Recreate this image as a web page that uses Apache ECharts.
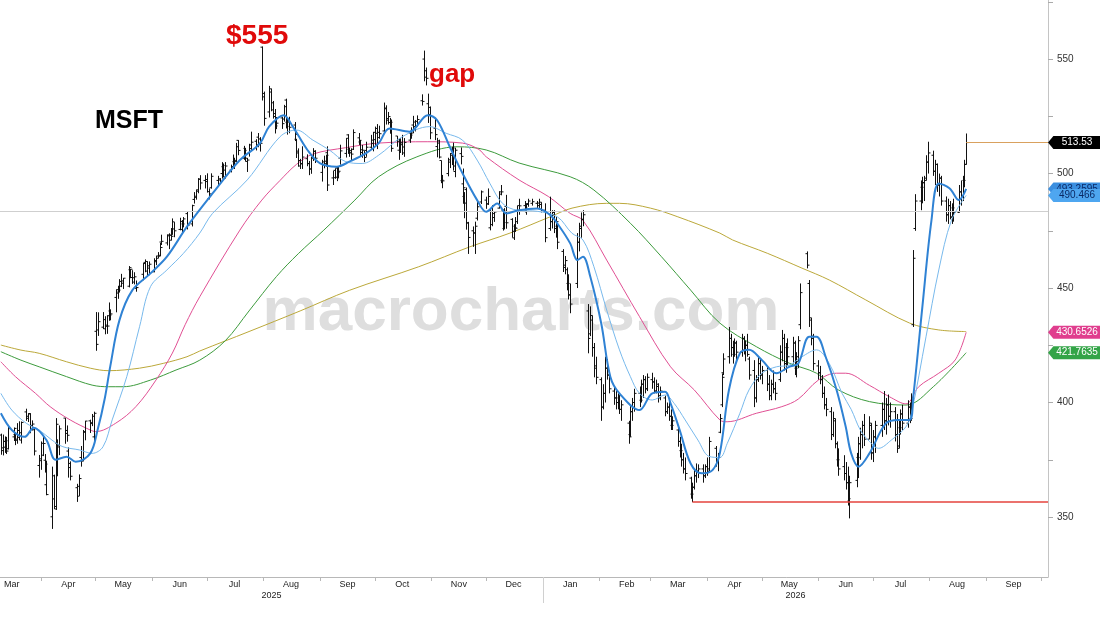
<!DOCTYPE html>
<html><head><meta charset="utf-8">
<script src="https://cdn.jsdelivr.net/npm/echarts@6/dist/echarts.min.js"></script>
<style>html,body{margin:0;padding:0;background:#fff}#c{width:1100px;height:619px}</style>
</head><body><div id="c"></div>
<script>
// ---- Daily OHLC, rows: [day, open, high, low, close] ----
const m2025_03 = [[10,385.8,386.4,377.2,380.2],[11,379,386,376.9,380.5],[12,383,385.2,378,383.3],[13,383.1,385,377.5,378.8],[14,379.8,390,379.5,388.6],[17,385,389.1,383.2,388.7],[18,386,387,381.4,383.5],[19,384,391,382,387.8],[20,384.8,391.8,383.6,386.8],[21,383.6,391.7,382.1,391.3],[24,395.9,397.3,392,393.1],[25,394,395.3,391.5,395.2],[26,395,395.3,386.6,390],[27,390,392.2,387.8,390.6],[28,388.1,389.1,376.9,378.8],[31,372.5,377.1,367.2,375.4]];
const m2025_04 = [[1,374.6,383,370.6,382.2],[2,377,385.1,376.6,382.1],[3,374.8,377.5,369.4,373.1],[4,364.1,374.6,359.5,359.8],[7,350.1,372,344.8,357.9],[8,368,368.5,353.5,354.6],[9,353.5,393.2,353.1,390.5],[10,382.1,383.9,367.8,381.4],[11,380.6,390,377,388.5],[14,393.2,393.2,382,387.8],[15,386.5,390,382.9,385.7],[16,378.8,380.4,367.2,371.6],[17,373.4,374.3,366,367.8],[21,362.8,364.5,356.6,359.1],[22,363.4,368.6,359.2,366.8],[23,376,381,372,374.4],[24,375,388,374.4,387.3],[25,387,392,383.5,391.9],[28,392,392.5,386.7,391.2],[29,390.8,395,389.7,394],[30,385,396,382.8,395.3]];
const m2025_05 = [[1,431.1,439.5,422.6,425.4],[2,431.7,439.4,429.1,435.3],[5,432.9,439.5,432.1,436.2],[6,432.2,437.7,429.8,433.3],[7,433.8,438.1,430,433.4],[8,437.9,443.7,435.7,438.2],[9,440,440.7,435.9,438.7],[12,445.9,449.4,439.4,449.3],[13,447.8,451,445.3,449.1],[14,448.3,453.9,448.1,452.9],[15,450.8,456.2,450.4,453.1],[16,452.1,454.4,449.6,454.3],[19,450.8,459.6,450.3,458.9],[20,458,458.3,454.3,458.2],[21,454.6,457.8,451.8,452.6],[22,454.5,456.9,451.6,454.9],[23,449.9,453.3,448.4,450.2],[27,456,460.9,453.4,460.7],[28,461.2,462.5,456.9,457.4],[29,461.6,461.7,455.3,458.7],[30,459.7,461.6,455.6,460.4]];
const m2025_06 = [[2,457.1,463,456.9,462],[3,461.5,464.1,460,463],[4,464,465.7,463,463.9],[5,464.3,469.7,464,467.7],[6,470.1,473.3,468.8,470.4],[9,469.7,473.4,468.6,472.8],[10,473.2,473.9,467,470.9],[11,473,476.2,470.8,472.6],[12,473.4,480.4,473.3,478.9],[13,475.8,478.8,472.2,475],[16,475.6,480.7,475.2,479.1],[17,475.6,479.7,474.1,478],[18,478,481,476.5,480.2],[20,482.5,483.5,475.6,477.4],[23,478,486.4,476.9,486],[24,488.7,491.9,486.9,490.1],[25,489.6,493,488.6,492.3],[26,492.9,498,491.4,497.5],[27,497.6,499.3,493,495.9],[30,497,499.3,493.5,497.4]];
const m2025_07 = [[1,496.5,500.1,491.7,492.1],[2,489.1,493.5,488.7,491.1],[3,493.8,500.1,493.4,498.8],[7,497,499,494.2,497.7],[8,497.2,498,495.5,496.6],[9,500,505,497.8,503.5],[10,503,504.4,498.4,501.5],[11,498.5,505,497.8,503.3],[14,501.5,503.9,500.5,503],[15,503,508.3,502.8,505.8],[16,505.2,506.9,502,505.6],[17,505.2,513.4,505.1,511.7],[18,514.5,514.6,508,510.1],[21,506.7,512.1,506,510.1],[22,511,511.2,505.3,505.3],[23,506.7,506.8,500.7,505.9],[24,508.8,513,507.4,510.9],[25,512.5,518.3,510.2,513.7],[28,514.1,515,510.1,512.5],[29,515.9,517.7,511.5,512.6],[30,515.1,515.9,509.6,513.2],[31,555.2,555.5,531.9,533.5]];
const m2025_08 = [[1,535,535.8,520.9,524.1],[4,526.9,538.3,524.5,535.6],[5,537,537.1,527.2,527.8],[6,530.9,531.7,524,524.9],[7,526.2,528.2,517.5,520.8],[8,522.6,524.7,519.4,522],[11,524.3,524.8,519.5,521.8],[12,523.8,530,522.7,529.2],[13,532.1,532.7,519.7,520.6],[14,522.4,524.1,517,522.5],[15,523.1,524.8,517.6,520.2],[18,521.2,522.5,514.2,517.1],[19,515,515.1,506.8,509.8],[20,509,511,503,505.7],[21,503.3,506.4,502,504.2],[22,504.4,511.9,502,507.2],[25,506.5,508.4,503.2,504.3],[26,504.4,505.5,499.3,502],[27,502,507.3,499.9,506.7],[28,507.1,511.1,505.5,509.6],[29,509.8,510.2,504.6,506.7]];
const m2025_09 = [[2,500.5,506,496.5,505.1],[3,503.8,507.8,502.3,505.4],[4,504.3,508.2,503,508],[5,509.1,511.9,492.4,495],[8,498.1,501.2,495,498.2],[9,501.4,502.3,497.7,498.4],[10,502.5,503.2,496.7,500.4],[11,502.2,503.2,497.9,501],[12,506.7,512.6,503.9,509.9],[15,508.8,515.5,507,515.4],[16,516.9,517.2,508.6,509],[17,510.6,511.3,507.3,510],[18,509.1,511,505.9,508.5],[19,510.6,519.3,510.3,517.9],[22,515.6,517.7,512.5,514.5],[23,513.8,514.6,507.3,509.2],[24,510.4,512.5,506.9,510.2],[25,508.3,510,505,507],[26,510.1,513.9,507.3,511.5],[29,511.5,516.9,510.8,514.6],[30,513.2,518.2,509.7,518]];
const m2025_10 = [[1,514.8,520.5,511.7,519.7],[2,517.6,521.6,510.7,515.7],[3,518,520.9,515.2,517.4],[6,518.6,531,518.2,528.6],[7,528.3,529.8,521.4,524],[8,523.3,526.9,521.4,524.9],[9,522.3,524.3,517.4,522.4],[10,519.6,523.6,509.5,511],[13,516.4,516.4,511.7,514.1],[14,510.2,515.3,506,513.6],[15,514.9,515.4,509,513.4],[16,512.6,516.9,508.1,511.6],[17,509,515.5,507.3,513.6],[20,514.6,518.7,513.4,516.8],[21,517.5,520.2,515.2,517.7],[22,521.2,525.2,517.7,520.5],[23,522.5,523.4,518.4,520.6],[24,522.8,525.4,520.7,523.6],[27,531.8,534.6,529.7,531.5],[28,550,553.7,540.3,542.1],[29,544.9,546.3,538.5,541.6],[30,530.5,534.9,522.1,525.8],[31,528.9,529.3,515,517.8]];
const m2025_11 = [[3,519.8,524,514.6,517],[4,511.8,515.6,507.1,514.3],[5,513.3,514.8,506.6,507.2],[6,505.7,505.7,495.8,497.1],[7,496.9,499.4,493.6,496.8],[10,500,506.9,498.8,506],[11,505,509,502.4,508.7],[12,508,511.7,503.7,511.1],[13,510.3,513.5,501.3,503.3],[14,500.9,511.3,498.4,510.2],[17,508.7,511.4,504,507.5],[18,495.5,502.2,486.8,493.8],[19,490,491.9,480.5,487.1],[20,493,493.9,475.5,478.4],[21,478.5,478.9,464.9,472.1],[24,475,476.9,468,474],[25,474.1,479,464.9,477],[26,480.5,488.3,479.5,485.5],[28,487.6,492.6,486.7,492]];
const m2025_12 = [[1,488.4,489.9,484.6,486.7],[2,486.8,493.5,486.3,490],[3,476.3,484.2,475.2,477.7],[4,484.8,486.2,477,480.8],[5,482.5,483.4,478.9,483.2],[8,484.9,492.3,484.7,491],[9,492,495,490.5,492],[10,484,484.3,475.1,478.6],[11,476,484.9,475.6,483.5],[12,485.6,490.7,475.9,478.5],[15,480,480.5,472,474.8],[16,471.9,477.9,471,476.4],[17,477,481,474.5,476.1],[18,479,486,478,483.9],[19,486,489,482,485.9],[22,486,488,483,484.9],[23,484,487,482,486.9],[24,486.5,489,485.5,488],[26,487,489,486,487.7],[29,487,488,484.5,487.1],[30,486,489,485,487.5],[31,486.5,487.5,483,483.6]];
const m2026_01 = [[2,484,487,470,472],[5,476,489.9,475,479],[6,479,484,476,483],[7,482,484,474,476],[8,476,481,472,479],[9,477,478,467,470],[12,466,467,457,459],[13,460,464,456,462],[14,458,459,449,452],[15,452,456,445,447],[16,447,452,439,443],[20,452,474,450,470],[21,470,478.5,466,477],[22,476,483,472,480],[23,480,484,477,482],[26,440,443,421.5,428],[27,430,442,429,438],[28,436,438,420,424],[29,424,426,411,415],[30,416,420,408,411]];
const m2026_02 = [[2,410,411,392,398],[3,398,408,397,404],[4,404,420,400,415],[5,415,419,410,412],[6,412,414,404,406],[9,405,407,399,402],[10,402,405,397,400],[11,400,404,397,403],[12,402,403,395,397],[13,397,401,392,399],[17,391,392,382,385],[18,386,399,385,396],[19,396,402,392,400],[20,400,406,396,404],[23,404,407,398,401],[24,401,410,400,408],[25,408,412,402,410],[26,410,411.5,404,406],[27,406,412.7,405,411]];
const m2026_03 = [[2,410,413,406,409],[3,409,411,404,405],[4,405,410,404,408],[5,407,408.4,400,402],[6,403,407,401,405],[9,402,403,394,396],[10,396,400,395,398],[11,398,401,392,394],[12,394,397,388,390],[13,390,394,388,392],[16,388,389,380.7,383],[17,383,385,376,379],[18,379,382,372,375],[19,375,378,369,371],[20,371,376,366,369],[23,367,367.6,358,360],[24,360,365,356.5,363],[25,363,370.5,362,368],[26,368,373.4,365,370],[27,370,373,367,371],[30,371,373,365,368],[31,368,373,367,372]];
const m2026_04 = [[1,372,376,368,370],[2,371,385,370,383],[6,380,381,372,374],[7,374,378,370,376],[8,387,395,386.6,393],[9,399,412.7,398,411],[10,413,421.5,412,419],[13,420,433,417,428],[14,428,430,420,424],[15,424,427,417,421],[16,421,428,420,426],[17,426,427,418,422],[20,422,430,420,428],[21,428,429,421,423],[22,423,427,418,425],[23,425,430,420,421],[24,419,420,410,412],[27,414,418.5,398,402],[28,402,412,400,410],[29,410,420,409,417],[30,417,419,410,412]];
const m2026_05 = [[1,412,416,408,414],[4,414,415.6,405,408],[5,408,412,401,403],[6,403,410,401,408],[7,408,414,404,406],[8,406,409,401,404],[11,410,425,409,422],[12,422,431.7,418,428],[13,428,430,414,417],[14,417,426,413,424],[15,424,428,416,420],[18,420,428.7,417,426],[19,426,427,412,415],[20,415,422,411,420],[21,418,429,415,427],[22,434,452,432,448],[26,465,466,458.6,460],[27,452,453.5,433,437],[28,436,437,425,429],[29,428,430,414,417]];
const m2026_06 = [[1,416,418.5,410,413],[2,413,416,408,410],[3,410,412,402,404],[4,404,407,397,399],[5,399,402,394,397],[8,396,398,383.6,386],[9,386,396,385,393],[10,392,393,380,382],[11,382,383,372,375],[12,375,380,368,371],[15,372,377,366,369],[16,369,374,362,365],[17,365,372,355,358],[18,357,368,349.4,365],[22,366,378,363,376],[23,376,385,367,382],[24,382,389,375,386],[25,386,392,380,390],[26,390,395,381,384],[29,384,394,384,391],[30,390,391,375,378]];
const m2026_07 = [[1,378,388,374,385],[2,385,392,378,390],[6,390,400,385,397],[7,397,405,388,392],[8,392,402,386,399],[9,399,403.5,390,394],[10,394,400,389,396],[13,396,398,383,386],[14,386,395,378,380],[15,381,392,380,389],[16,389,397,386,395],[17,395,399,388,391],[20,391,401,389,398],[21,398,400,391,393],[22,393,404,392,402],[23,434,466.6,433,463],[24,476,491,475,488],[27,488,497,484,494],[28,494,498.6,487,496],[29,496,499,488,497],[30,498,508,497,505],[31,505,513.9,500,509]];
const m2026_08 = [[3,508,510,499,501],[4,501,506,495,504],[5,504,504.4,492,495],[6,495,500,490,498],[7,498,499,486,488],[10,488,490,479,482],[11,482,489,478,486],[12,486,488,480,481],[13,481,487,478,485],[14,485,489,479,483],[17,483,495,483,492],[18,492,497,486,490],[19,490,499,488,497],[20,497,506,494,504],[21,504,517.5,504,513.53]];

// ---- Moving averages: [date, value] ----
const maFast = [['2025-03-10',395.3],['2025-03-16',388],['2025-03-23',385],['2025-03-28',389],['2025-04-04',383.6],['2025-04-09',375],['2025-04-15',376.3],['2025-04-20',374.1],['2025-04-28',377.8],['2025-05-02',388],['2025-05-06',402],['2025-05-09',416],['2025-05-14',436],['2025-05-21',449],['2025-05-31',456.4],['2025-06-09',463.7],['2025-06-20',476.8],['2025-07-04',491.3],['2025-07-19',505.9],['2025-07-30',513.2],['2025-08-04',520.5],['2025-08-12',525.5],['2025-08-17',520.5],['2025-08-25',510.3],['2025-09-01',504.4],['2025-09-10',503],['2025-09-17',505.2],['2025-09-26',508.8],['2025-10-03',513.2],['2025-10-09',519.7],['2025-10-20',518.3],['2025-10-30',525.5],['2025-11-04',523.4],['2025-11-11',511.7],['2025-11-18',500.1],['2025-11-26',488.4],['2025-12-01',483.3],['2025-12-07',486.9],['2025-12-12',482.6],['2025-12-19',484],['2025-12-29',484.7],['2026-01-05',481.9],['2026-01-10',477],['2026-01-16',469.5],['2026-01-20',462.2],['2026-01-23',463.7],['2026-01-27',455],['2026-02-02',434.6],['2026-02-07',411.3],['2026-02-12',404],['2026-02-23',396.7],['2026-03-02',404],['2026-03-09',404.7],['2026-03-12',399.6],['2026-03-17',388],['2026-03-23',373.4],['2026-03-29',369.1],['2026-04-04',370.5],['2026-04-08',377.8],['2026-04-13',405.5],['2026-04-19',421.5],['2026-04-24',423],['2026-05-01',418.6],['2026-05-09',412.8],['2026-05-16',415.6],['2026-05-21',417.1],['2026-05-27',428.7],['2026-05-31',428.7],['2026-06-05',420],['2026-06-11',405.5],['2026-06-16',389.4],['2026-06-19',377.8],['2026-06-23',372],['2026-06-29',377.8],['2026-07-08',390.9],['2026-07-15',392.4],['2026-07-21',392.4],['2026-07-23',402.5],['2026-07-28',441.8],['2026-08-02',479.7],['2026-08-06',495.7],['2026-08-12',493.5],['2026-08-17',488.4],['2026-08-21',493.2595]];
const maMid = [['2025-03-10',404],['2025-03-16',396.7],['2025-03-24',390.9],['2025-03-31',388],['2025-04-07',383.6],['2025-04-13',380.7],['2025-04-22',379.3],['2025-04-29',377.8],['2025-05-05',380.7],['2025-05-10',392.4],['2025-05-18',411.3],['2025-05-25',433.1],['2025-05-31',450.6],['2025-06-09',457.9],['2025-06-18',465.1],['2025-06-27',474],['2025-07-04',482.6],['2025-07-23',497.2],['2025-08-10',516.1],['2025-08-19',519],['2025-08-28',514.6],['2025-09-06',510.3],['2025-09-15',505.2],['2025-09-24',504.4],['2025-10-03',508],['2025-10-16',516.1],['2025-10-31',520.5],['2025-11-09',517.6],['2025-11-18',514.6],['2025-11-26',505.9],['2025-12-03',495.7],['2025-12-10',486.9],['2025-12-18',484],['2025-12-29',483.5],['2026-01-09',481.1],['2026-01-17',473.9],['2026-01-23',471],['2026-01-29',459.3],['2026-02-05',440.4],['2026-02-12',423],['2026-02-18',411.3],['2026-02-23',404],['2026-03-02',401.1],['2026-03-09',403.3],['2026-03-14',399.6],['2026-03-20',392.4],['2026-03-27',383.6],['2026-04-02',376.5],['2026-04-08',376],['2026-04-12',382],['2026-04-19',395.3],['2026-04-24',405.5],['2026-05-01',412.8],['2026-05-09',415.6],['2026-05-16',416.3],['2026-05-23',420],['2026-05-31',423],['2026-06-07',417],['2026-06-14',404],['2026-06-19',397],['2026-06-24',388],['2026-06-29',383],['2026-07-04',380],['2026-07-11',383.6],['2026-07-19',389.4],['2026-07-22',395.3],['2026-07-30',428.7],['2026-08-06',457.9],['2026-08-13',479.7],['2026-08-21',490.466]];
const ma50 = [['2025-03-10',417.8],['2025-03-18',411.3],['2025-03-29',404],['2025-04-06',398.2],['2025-04-17',392.4],['2025-04-28',388],['2025-05-01',387.3],['2025-05-12',391],['2025-05-23',398.2],['2025-06-03',409.8],['2025-06-12',421.6],['2025-06-19',434],['2025-06-27',446.2],['2025-07-19',475.3],['2025-07-31',488.4],['2025-08-10',497],['2025-08-19',504],['2025-08-28',508.5],['2025-09-15',511.3],['2025-10-03',513.3],['2025-10-30',513.9],['2025-11-18',513.3],['2025-11-27',510.5],['2025-12-01',507.3],['2025-12-19',497.2],['2026-01-04',490],['2026-01-16',482.6],['2026-01-23',479.5],['2026-02-05',462.2],['2026-02-23',437.5],['2026-03-12',415.6],['2026-03-25',405.5],['2026-04-08',392.4],['2026-04-12',391.6],['2026-04-28',395.3],['2026-05-12',398.2],['2026-05-21',401.5],['2026-06-01',409.8],['2026-06-11',412.8],['2026-06-16',412.8],['2026-06-29',407.5],['2026-07-10',402.5],['2026-07-19',399.4],['2026-07-26',406.9],['2026-08-06',412.8],['2026-08-15',418.6],['2026-08-21',430.6526]];
const ma100 = [['2025-03-10',422.2],['2025-03-21',418.5],['2025-03-31',415.6],['2025-04-15',411.3],['2025-04-29',407.6],['2025-05-08',406.9],['2025-05-16',406.9],['2025-05-31',409.8],['2025-06-14',414.2],['2025-06-27',418.5],['2025-07-11',427],['2025-07-24',440],['2025-08-08',455],['2025-08-20',465],['2025-09-03',475.3],['2025-09-20',488.4],['2025-10-03',498.6],['2025-10-24',507.3],['2025-11-15',511.7],['2025-12-01',510.3],['2025-12-19',504.6],['2026-01-16',498.6],['2026-01-29',492.8],['2026-02-18',478.3],['2026-03-07',463.7],['2026-03-23',449.1],['2026-04-08',434.7],['2026-04-28',424.4],['2026-05-16',417.2],['2026-05-31',412.8],['2026-06-12',405.5],['2026-06-29',400.4],['2026-07-19',398.9],['2026-08-03',406.9],['2026-08-21',421.7635]];
const ma200 = [['2025-03-10',425.1],['2025-03-21',422.9],['2025-03-31',421.5],['2025-04-15',417.8],['2025-04-28',415],['2025-05-08',413.9],['2025-05-25',415],['2025-06-07',417.1],['2025-06-20',420],['2025-06-27',422.5],['2025-07-24',431],['2025-08-21',440],['2025-09-17',449],['2025-10-25',459.3],['2025-11-22',468],['2025-12-14',474],['2026-01-05',481.1],['2026-01-17',484.9],['2026-02-05',487],['2026-02-12',487],['2026-03-01',484.9],['2026-03-16',481.1],['2026-04-08',474],['2026-04-15',471],['2026-05-04',465.2],['2026-05-23',458.7],['2026-06-07',453.5],['2026-06-27',444.8],['2026-07-21',434.7],['2026-08-06',431.7],['2026-08-21',431]];

// ---- Reference levels ----
const yearEndLevel = 483.6;
const supportLevel = 356.5, supportFrom = '2026-03-24';
const lastClose = 513.53, lastDate = '2026-08-21';

// ---- Axis ticks ----
const yLabelValues = [350, 400, 450, 500, 550];
const yTickValues = [350, 375, 400, 425, 450, 475, 500, 525, 550, 575];
const monthNames = ['Jan','Feb','Mar','Apr','May','Jun','Jul','Aug','Sep','Oct','Nov','Dec'];

const DAY = 86400000;
function ts(s){ const p = s.split('-').map(Number); return Date.UTC(p[0], p[1]-1, p[2]); }
const apr1 = Date.UTC(2025, 3, 1);
const xMin = apr1 - 22.47 * DAY;
const xMax = apr1 + 551.85 * DAY;

const monthStarts = [], monthMids = [];
for (let k = 0; k < 20; k++) {
  const y = 2025 + Math.floor((2 + k) / 12), m = (2 + k) % 12;
  const s = Date.UTC(y, m, 1);
  if (s > xMin && s < xMax) monthStarts.push(s);
  const mid = Date.UTC(y, m, 16);
  if (mid > xMin && mid < xMax) monthMids.push(mid);
}
const jan2026 = Date.UTC(2026, 0, 1);
const yearMids = [(xMin + jan2026) / 2, (jan2026 + xMax) / 2];

const monthsList = [[2025,3,m2025_03],[2025,4,m2025_04],[2025,5,m2025_05],[2025,6,m2025_06],[2025,7,m2025_07],[2025,8,m2025_08],[2025,9,m2025_09],[2025,10,m2025_10],[2025,11,m2025_11],[2025,12,m2025_12],[2026,1,m2026_01],[2026,2,m2026_02],[2026,3,m2026_03],[2026,4,m2026_04],[2026,5,m2026_05],[2026,6,m2026_06],[2026,7,m2026_07],[2026,8,m2026_08]];
const ohlc = [];
monthsList.forEach(([y, m, arr]) => arr.forEach(r => ohlc.push([Date.UTC(y, m-1, r[0]), r[1], r[2], r[3], r[4]])));
const toTs = arr => arr.map(p => [ts(p[0]), p[1]]);

const TAG = 'path://M0,6L6,0L60,0L60,12L6,12Z';
function tag(value, text, bg, fg, z) {
  return {
    symbol: TAG, symbolSize: [54, 13], symbolOffset: ['50%', 0], silent: true, z: z,
    itemStyle: { color: bg },
    label: { show: true, position: 'inside', offset: [2, 0], color: fg, fontSize: 10, fontFamily: 'Liberation Sans', formatter: text },
    data: [{ coord: [xMax, value], value: value }]
  };
}
function maSeries(name, data, color, width, z, mp) {
  const s = { type: 'line', name: name, data: toTs(data), showSymbol: false, smooth: 0.35, silent: true,
    lineStyle: { color: color, width: width }, itemStyle: { color: color }, z: z, animation: false };
  if (mp) s.markPoint = mp;
  return s;
}

const chart = echarts.init(document.getElementById('c'), null, { renderer: 'canvas' });
chart.setOption({
  animation: false,
  backgroundColor: '#fff',
  grid: { left: 0, right: 52, top: 0, bottom: 42, containLabel: false },
  xAxis: [{
    type: 'value', min: xMin, max: xMax, scale: true,
    axisLine: { show: true, lineStyle: { color: '#b8b8b8', width: 1 } },
    axisTick: { show: true, customValues: monthStarts, length: 4, lineStyle: { color: '#b8b8b8' } },
    axisLabel: { customValues: monthMids, margin: 3, fontSize: 9, color: '#222', fontFamily: 'Liberation Sans',
      formatter: v => monthNames[new Date(v).getUTCMonth()] },
    splitLine: { show: false }
  }, {
    type: 'value', min: xMin, max: xMax, scale: true, position: 'bottom', gridIndex: 0,
    axisLine: { show: false },
    axisTick: { show: true, customValues: [jan2026], length: 26, lineStyle: { color: '#d0d0d0' } },
    axisLabel: { customValues: yearMids, margin: 14, fontSize: 9, color: '#222', fontFamily: 'Liberation Sans',
      formatter: v => String(new Date(v).getUTCFullYear()) },
    splitLine: { show: false }
  }],
  yAxis: {
    type: 'value', position: 'right', min: 323.8, max: 575.8, scale: true,
    axisLine: { show: true, lineStyle: { color: '#c4c4c4', width: 1 } },
    axisTick: { show: true, customValues: yTickValues, length: 5, lineStyle: { color: '#aaa' } },
    axisLabel: { customValues: yLabelValues, margin: 9, fontSize: 10, color: '#333', fontFamily: 'Liberation Sans' },
    splitLine: { show: false }
  },
  graphic: [
    { type: 'text', z: -10, silent: true, style: { x: 521, y: 313, text: 'macrocharts.com', font: 'bold 62px "Liberation Sans"', fill: '#dedede', textAlign: 'center', textVerticalAlign: 'middle' } },
    { type: 'text', z: 50, silent: true, style: { x: 95, y: 121, text: 'MSFT', font: 'bold 25px "Liberation Sans"', fill: '#000', textVerticalAlign: 'middle' } },
    { type: 'text', z: 50, silent: true, style: { x: 226, y: 36, text: '$555', font: 'bold 28px "Liberation Sans"', fill: '#e00a0a', textVerticalAlign: 'middle' } },
    { type: 'text', z: 50, silent: true, style: { x: 429, y: 75, text: 'gap', font: 'bold 26px "Liberation Sans"', fill: '#e00a0a', textVerticalAlign: 'middle' } }
  ],
  series: [
    maSeries('200d', ma200, '#bba83a', 1, 3, null),
    maSeries('100d', ma100, '#3d9b3d', 1, 3, tag(421.7635, '421.7635', '#33a447', '#fff', 20)),
    maSeries('50d', ma50, '#e04f93', 1, 3, tag(430.6526, '430.6526', '#e03e8e', '#fff', 20)),
    {
      type: 'custom', name: 'MSFT', data: ohlc, encode: { x: 0, y: [1, 2, 3, 4] }, z: 4, silent: true, animation: false,
      renderItem: function (params, api) {
        const t = api.value(0);
        const po = api.coord([t, api.value(1)]), ph = api.coord([t, api.value(2)]);
        const pl = api.coord([t, api.value(3)]), pc = api.coord([t, api.value(4)]);
        const x = Math.round(po[0]) + 0.5;
        const st = { stroke: '#111', lineWidth: 1 };
        return { type: 'group', children: [
          { type: 'line', shape: { x1: x, y1: ph[1], x2: x, y2: pl[1] }, style: st },
          { type: 'line', shape: { x1: x - 2, y1: po[1], x2: x, y2: po[1] }, style: st },
          { type: 'line', shape: { x1: x, y1: pc[1], x2: x + 2, y2: pc[1] }, style: st }
        ]};
      },
      markLine: {
        silent: true, symbol: ['none', 'none'], animation: false, label: { show: false },
        data: [
          [{ coord: [xMin, yearEndLevel], lineStyle: { color: '#cfcfcf', width: 1, type: 'solid' } }, { coord: [xMax, yearEndLevel] }],
          [{ coord: [ts(supportFrom), supportLevel], lineStyle: { color: '#e5433d', width: 1.5, type: 'solid' } }, { coord: [xMax, supportLevel] }],
          [{ coord: [ts(lastDate), lastClose], lineStyle: { color: '#d9a15e', width: 1.2, type: 'solid' } }, { coord: [xMax, lastClose] }]
        ]
      },
      markPoint: tag(lastClose, '513.53', '#000', '#fff', 20)
    },
    maSeries('20d', maMid, '#78b9ec', 1, 5, tag(490.466, '490.466', '#4ea6f0', '#0b2a66', 21)),
    maSeries('10d', maFast, '#2f82d4', 2, 6, tag(493.2595, '493.2595', '#3b8fe0', '#0b2a66', 19))
  ]
});
</script></body></html>
